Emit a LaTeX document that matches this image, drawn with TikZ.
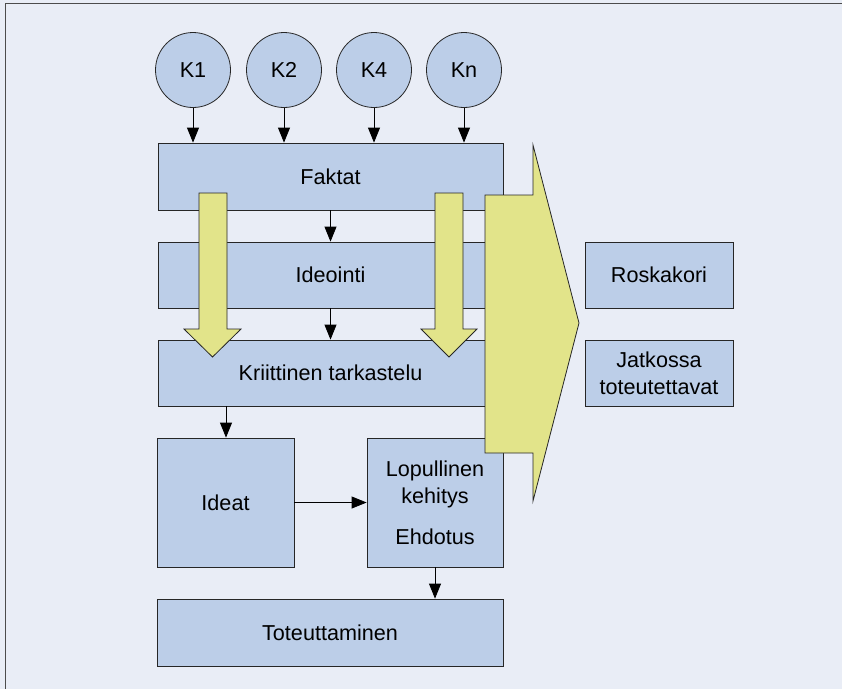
\documentclass[tikz,border=0pt]{standalone}
\usepackage{fontspec}
\setmainfont{Liberation Sans}
\usepackage{tikz}
\usetikzlibrary{arrows.meta}
\definecolor{bgblue}{HTML}{E9EDF6}
\definecolor{boxblue}{HTML}{BCCEE8}
\definecolor{arrowyellow}{HTML}{E2E48A}
\begin{document}
\begin{tikzpicture}[x=1pt,y=-1pt,
  every node/.style={font=\fontsize{21.6}{27}\selectfont},
  kbox/.style={draw=black!85,line width=0.8pt,fill=boxblue,align=center,inner sep=0pt},
  kcirc/.style={circle,draw=black!85,line width=0.8pt,fill=boxblue,minimum size=75pt,inner sep=0pt},
  karrow/.style={line width=0.8pt,-{Triangle[length=15pt,width=12pt]}},
  yarrow/.style={draw=black!85,line width=0.8pt,fill=arrowyellow}]
\fill[bgblue] (0,0) rectangle (842,689);
\useasboundingbox (0,0) rectangle (842,689);
\draw[line width=0.8pt,black!70] (5,689)--(5,3)--(842,3);

\node[kcirc] (K1) at (193,70) {K1};
\node[kcirc] (K2) at (284,70) {K2};
\node[kcirc] (K4) at (374,70) {K4};
\node[kcirc] (Kn) at (464,70) {Kn};

\node[kbox,minimum width=345pt,minimum height=67pt] (faktat) at (330.5,176.5) {Faktat};
\node[kbox,minimum width=345pt,minimum height=66pt] (ideointi) at (330.5,275) {Ideointi};
\node[kbox,minimum width=345pt,minimum height=66pt] (kriittinen) at (330.5,373) {Kriittinen tarkastelu};
\node[kbox,minimum width=137pt,minimum height=129pt] (ideat) at (225.5,502.5) {Ideat};
\node[kbox,minimum width=136pt,minimum height=129pt] (lopullinen) at (435,502.5) {Lopullinen\\kehitys\\[14pt]Ehdotus};
\node[kbox,minimum width=346pt,minimum height=67pt] (toteuttaminen) at (330,632.5) {Toteuttaminen};
\node[kbox,minimum width=148pt,minimum height=66pt] (roskakori) at (659,275) {Roskakori};
\node[kbox,minimum width=148pt,minimum height=66pt] (jatkossa) at (659,373) {Jatkossa\\toteutettavat};

\foreach \k in {K1,K2,K4,Kn}
  \draw[karrow] (\k) -- (\k |- faktat.north);
\draw[karrow] (faktat.south) -- (faktat.south |- ideointi.north);
\draw[karrow] (ideointi.south) -- (ideointi.south |- kriittinen.north);
\coordinate (k1) at (226,406);
\draw[karrow] (k1) -- (k1 |- ideat.north);
\draw[karrow] (ideat.east) -- (ideat.east -| lopullinen.west);
\draw[karrow] (lopullinen.south) -- (lopullinen.south |- toteuttaminen.north);

% keltaiset nuolet
\draw[yarrow] (199,193)--(227,193)--(227,329)--(241,329)--(212.5,357)--(184,329)--(199,329)--cycle;
\draw[yarrow] (435,193)--(463,193)--(463,329)--(477,329)--(449,357)--(421,329)--(435,329)--cycle;
\draw[yarrow] (485,195)--(533,195)--(533,145)--(579,323)--(533,501)--(533,453)--(485,453)--cycle;

\end{tikzpicture}
\end{document}
